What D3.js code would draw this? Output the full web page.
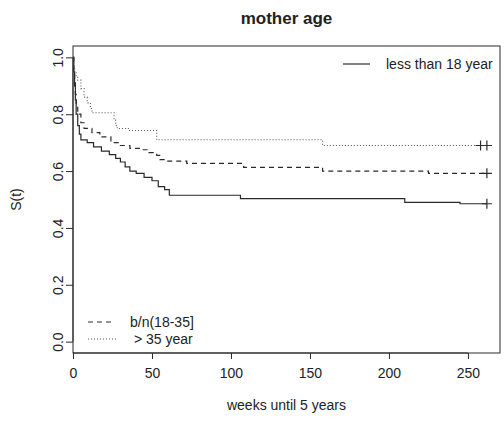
<!DOCTYPE html>
<html>
<head>
<meta charset="utf-8">
<script src="https://cdn.jsdelivr.net/npm/d3@7"></script>
<style>
  html, body { margin: 0; padding: 0; background: #fff; }
  svg text { font-family: "Liberation Sans", Arial, Helvetica, sans-serif; fill: #222; }
</style>
</head>
<body>
<svg id="chart" width="504" height="423"></svg>
<script>
// ---- data ----
const groupNames = ["less than 18 year", "b/n(18-35]", "> 35 year"];

const timesLess18 = [0, 0.5, 1, 1.5, 2, 3, 4, 5, 9, 13, 18, 23, 27, 30, 33, 36, 40, 45, 50, 54, 58, 61, 106, 210, 245, 262];
const survLess18  = [1, 0.95, 0.90, 0.85, 0.80, 0.76, 0.73, 0.71, 0.70, 0.685, 0.67, 0.658, 0.645, 0.632, 0.615, 0.60, 0.592, 0.578, 0.566, 0.545, 0.535, 0.515, 0.503, 0.49, 0.485, 0.485];
const censorLess18 = [262];

const timesMid = [0, 0.5, 1, 1.5, 2, 3, 5, 7, 12, 17, 24, 30, 36, 42, 48, 53, 55, 60, 72, 108, 158, 225, 262];
const survMid  = [1, 0.95, 0.91, 0.87, 0.83, 0.80, 0.77, 0.75, 0.735, 0.72, 0.70, 0.69, 0.68, 0.675, 0.665, 0.655, 0.64, 0.635, 0.627, 0.613, 0.60, 0.592, 0.592];
const censorMid = [262];

const timesOver35 = [0, 0.5, 1, 2, 3, 5, 7, 9, 11, 12, 26, 27, 28, 35, 53, 158, 262];
const survOver35  = [1, 0.97, 0.95, 0.93, 0.92, 0.89, 0.86, 0.84, 0.82, 0.805, 0.78, 0.76, 0.75, 0.743, 0.71, 0.69, 0.69];
const censorOver35 = [258, 262];

const xTicks = [0, 50, 100, 150, 200, 250];
const yTicks = [0, 0.2, 0.4, 0.6, 0.8, 1.0];

const titleText = "mother age";
const xLabel = "weeks until 5 years";
const yLabel = "S(t)";

// ---- layout ----
const svg = d3.select("#chart");
const mLeft = 73, mRight = 500, mTop = 46, mBottom = 353;
const ink = "#2a2a2a";

const x = d3.scaleLinear().domain([0, 270.3]).range([mLeft, mRight]);
const y = d3.scaleLinear().domain([-0.04, 1.04]).range([mBottom, mTop]);

// box
svg.append("rect").attr("x", mLeft).attr("y", mTop)
  .attr("width", mRight - mLeft).attr("height", mBottom - mTop)
  .attr("fill", "none").attr("stroke", ink).attr("stroke-width", 1);

// axes
const xAxis = d3.axisBottom(x).tickValues(xTicks).tickSize(6).tickPadding(9).tickFormat(d3.format("d"));
const gx = svg.append("g").attr("transform", `translate(0,${mBottom})`).call(xAxis);
gx.select(".domain").attr("d", `M${x(0)},0H${x(250)}`).attr("stroke", ink);
gx.selectAll(".tick line").attr("stroke", ink);
gx.selectAll(".tick text").attr("font-size", 14).attr("fill", ink)
  .style("font-family", '"Liberation Sans", Arial, sans-serif');

const yAxis = d3.axisLeft(y).tickValues(yTicks).tickSize(7).tickFormat(d3.format(".1f"));
const gy = svg.append("g").attr("transform", `translate(${mLeft},0)`).call(yAxis);
gy.select(".domain").attr("d", `M0,${y(0)}V${y(1)}`).attr("stroke", ink);
gy.selectAll(".tick line").attr("stroke", ink);
gy.selectAll(".tick text")
  .attr("font-size", 14).attr("fill", ink)
  .attr("text-anchor", "middle")
  .attr("x", 0).attr("y", 0).attr("dy", null)
  .attr("transform", "translate(-10,0) rotate(-90)")
  .style("font-family", '"Liberation Sans", Arial, sans-serif');

// titles
svg.append("text").attr("x", (mLeft + mRight) / 2).attr("y", 24)
  .attr("text-anchor", "middle").attr("font-size", 17).attr("font-weight", "bold")
  .text(titleText);
svg.append("text").attr("x", (mLeft + mRight) / 2).attr("y", 410)
  .attr("text-anchor", "middle").attr("font-size", 14).text(xLabel);
svg.append("text").attr("transform", `translate(21,${(mTop + mBottom) / 2}) rotate(-90)`)
  .attr("text-anchor", "middle").attr("font-size", 14).text(yLabel);

// curves
const series = [
  { name: groupNames[0], t: timesLess18, s: survLess18, c: censorLess18, dash: null, color: "#2a2a2a", w: 1.2 },
  { name: groupNames[1], t: timesMid, s: survMid, c: censorMid, dash: "5,4", color: "#2a2a2a", w: 1.2 },
  { name: groupNames[2], t: timesOver35, s: survOver35, c: censorOver35, dash: "1,2", color: "#555", w: 1.1 }
];

const line = d3.line().x(d => x(d[0])).y(d => y(d[1])).curve(d3.curveStepAfter);

series.forEach(sr => {
  const pts = sr.t.map((t, i) => [t, sr.s[i]]);
  svg.append("path").attr("d", line(pts)).attr("fill", "none")
    .attr("stroke", sr.color).attr("stroke-width", sr.w)
    .attr("stroke-dasharray", sr.dash);
  const last = sr.s[sr.s.length - 1];
  sr.c.forEach(ct => {
    const cx = x(ct), cy = y(last);
    svg.append("path").attr("d", `M${cx - 5},${cy}H${cx + 5}M${cx},${cy - 5}V${cy + 5}`)
      .attr("stroke", ink).attr("stroke-width", 1.2).attr("fill", "none");
  });
});

// legends
svg.append("line").attr("x1", 343).attr("x2", 370).attr("y1", 64).attr("y2", 64)
  .attr("stroke", ink).attr("stroke-width", 1.2);
svg.append("text").attr("x", 386).attr("y", 69).attr("font-size", 14).text(series[0].name);

svg.append("line").attr("x1", 88).attr("x2", 115).attr("y1", 322).attr("y2", 322)
  .attr("stroke", ink).attr("stroke-width", 1.2).attr("stroke-dasharray", "5,4");
svg.append("text").attr("x", 130).attr("y", 327).attr("font-size", 14).text(series[1].name);

svg.append("line").attr("x1", 88).attr("x2", 118).attr("y1", 339).attr("y2", 339)
  .attr("stroke", "#555").attr("stroke-width", 1.1).attr("stroke-dasharray", "1,2");
svg.append("text").attr("x", 134).attr("y", 344).attr("font-size", 14).text(series[2].name);
</script>
</body>
</html>
